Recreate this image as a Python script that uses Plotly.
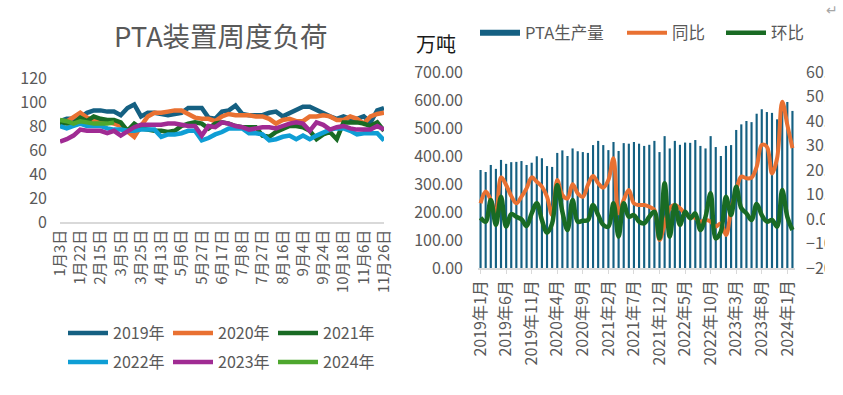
import plotly.graph_objects as go

# ---------------- left chart: weekly PTA plant load ----------------
weeks = ["1月3日", "1月10日", "1月16日", "1月22日", "1月29日", "2月8日", "2月15日", "2月22日", "2月28日",
         "3月5日", "3月12日", "3月19日", "3月25日", "4月1日", "4月8日", "4月13日", "4月19日", "4月26日",
         "5月6日", "5月13日", "5月20日", "5月27日", "6月3日", "6月10日", "6月17日", "6月24日", "7月1日",
         "7月8日", "7月15日", "7月21日", "7月27日", "8月3日", "8月9日", "8月16日", "8月23日", "8月29日",
         "9月4日", "9月11日", "9月17日", "9月24日", "10月8日", "10月12日", "10月18日", "10月25日", "10月31日",
         "11月6日", "11月13日", "11月19日", "11月26日"]
week_ticks = weeks[::3]

load_2019 = [84, 86, 86, 87, 91, 93, 93, 92, 92, 89, 95, 98, 88, 91, 91, 90, 89, 90, 91, 95, 95, 95, 87, 86, 92,
             93, 97, 90, 89, 89, 89, 91, 92, 88, 91, 94, 96, 96, 93, 90, 88, 86, 88, 86, 86, 88, 83, 93, 95]
load_2020 = [80, 84, 88, 91, 87, 85, 84, 83, 82, 80, 75, 71, 80, 88, 91, 91, 92, 93, 93, 90, 87, 86, 86, 84, 88,
             90, 89, 89, 89, 88, 88, 86, 82, 85, 86, 84, 84, 88, 88, 89, 88, 85, 85, 88, 86, 82, 88, 90, 91]
load_2021 = [83, 82, 82, 87, 84, 88, 86, 85, 85, 83, 76, 82, 78, 77, 76, 76, 75, 76, 80, 82, 83, 82, 78, 82, 83,
             82, 80, 79, 79, 79, 72, 71, 75, 78, 80, 80, 79, 76, 69, 73, 75, 69, 83, 83, 83, 82, 80, 83, 76]
load_2022 = [80, 78, 80, 82, 80, 80, 80, 78, 77, 77, 76, 76, 77, 77, 77, 71, 73, 73, 74, 76, 76, 68, 70, 73, 75,
             78, 78, 78, 74, 74, 73, 68, 69, 71, 72, 69, 72, 69, 72, 75, 77, 78, 78, 76, 73, 74, 74, 74, 68]
load_2023 = [67, 69, 72, 77, 76, 76, 76, 74, 76, 72, 76, 79, 81, 81, 81, 81, 82, 82, 81, 80, 80, 72, 80, 79, 83,
             82, 80, 79, 77, 78, 79, 79, 78, 80, 82, 83, 82, 76, 83, 81, 77, 79, 80, 78, 77, 77, 77, 80, 77]
load_2024 = [85, 84, 82, 84, 83, 82, 82, 82, 83]

years = ["2019年", "2020年", "2021年", "2022年", "2023年", "2024年"]
year_colors = ["#156082", "#E97132", "#196B24", "#0F9ED5", "#A02B93", "#4EA72E"]
loads = [load_2019, load_2020, load_2021, load_2022, load_2023, load_2024]

# ---------------- right chart: monthly PTA output ----------------
months = [f"{y}年{m}月" for y in range(2019, 2025) for m in range(1, 13)][:62]
month_ticks = months[::5]

output = [350, 343, 368, 354, 386, 372, 378, 379, 382, 368, 376, 399, 392, 364, 361, 411, 420, 400, 427, 417,
          414, 411, 439, 454, 439, 421, 450, 418, 446, 444, 450, 444, 436, 440, 454, 414, 471, 427, 454, 440,
          448, 447, 457, 436, 427, 471, 432, 400, 436, 439, 493, 513, 525, 521, 551, 567, 557, 554, 531, 596,
          593, 561]
yoy = [6.4, 11.2, 7.8, 2.3, 17.0, 13.9, 9.4, 6.4, 9.1, 12.5, 17.0, 15.2, 13.2, 9.1, 1.6, 15.9, 9.8, 8.4, 14.2, 10.5,
       9.1, 13.9, 17.6, 14.6, 12.8, 15.9, 24.8, 2.3, 7.8, 11.8, 6.4, 5.7, 5.7, 5.0, 3.7, -8.6, -2.0, 4.4, 5.7, 4.4,
       2.3, 1.0, 0.4, -1.1, -0.4, -1.0, -3.1, -1.8, -6.5, 3.7, 11.8, 17.3, 16.6, 16.9, 21.3, 30.2, 29.5, 18.6, 24.8,
       47.9, 38.4, 28.9]
mom = [0.5, -1.1, 7.8, -2.4, 9.1, -3.1, 2.0, 0.9, -0.1, -2.9, 2.3, 6.4, -0.4, -5.6, -1.8, 13.9, 3.0, -4.5, 7.8, -1.1,
       -0.7, -0.4, 5.7, 1.6, -2.4, -3.1, 6.4, -7.2, 6.4, 0.9, 1.6, -1.1, -1.8, 0.9, 3.0, -7.9, 14.6, -7.2, 5.7, -2.4,
       3.0, 0.3, 2.3, -4.5, 0.9, 10.5, -7.9, -5.2, 9.1, 1.6, 13.2, 4.4, 2.3, -0.4, 6.1, 1.6, -1.1, -0.4, -3.1, 11.8,
       0.9, -4.5]

W, H = 843, 395
GRAY = "#595959"
FONT = "Noto Sans CJK SC"


def px(x):
    return x / W


def py(y):
    return 1 - y / H


fig = go.Figure()

for i, (name, col, vals) in enumerate(zip(years, year_colors, loads)):
    fig.add_trace(go.Scatter(
        x=weeks[:len(vals)], y=vals, mode="lines", name=name,
        line=dict(color=col, width=4.5), xaxis="x", yaxis="y",
        legend="legend" if i < 3 else "legend2"))

fig.add_trace(go.Bar(x=months, y=output, name="PTA生产量", marker_color="#156082",
                     marker_line_width=0, width=0.42, xaxis="x2", yaxis="y2", showlegend=False))
fig.add_trace(go.Scatter(x=[None], y=[None], mode="lines", name="PTA生产量",
                         line=dict(color="#156082", width=6), xaxis="x2", yaxis="y2", legend="legend3"))
fig.add_trace(go.Scatter(x=months, y=yoy, mode="lines", name="同比", line_shape="spline",
                         line=dict(color="#E97132", width=4), xaxis="x2", yaxis="y3", legend="legend4"))
fig.add_trace(go.Scatter(x=months, y=mom, mode="lines", name="环比", line_shape="spline",
                         line=dict(color="#196B24", width=4.5), xaxis="x2", yaxis="y3", legend="legend4"))

tickfont = dict(family=FONT, size=16, color=GRAY)
legfont = dict(family=FONT, size=16, color=GRAY)
legbase = dict(orientation="h", xanchor="left", yanchor="middle", font=legfont,
               bgcolor="rgba(0,0,0,0)", itemwidth=40, tracegroupgap=0)

fig.update_layout(
    width=W, height=H, autosize=False,
    margin=dict(l=0, r=0, t=0, b=0),
    template="none",
    paper_bgcolor="white", plot_bgcolor="white",
    font=dict(family=FONT, color=GRAY),
    bargap=0.6,
    xaxis=dict(domain=[px(60), px(384)], type="category", categoryorder="array", categoryarray=weeks,
               range=[0, len(weeks) - 1], tickmode="array", tickvals=week_ticks, tickangle=-90,
               tickfont=dict(family=FONT, size=15, color=GRAY), showgrid=False, zeroline=False,
               showline=True, linecolor="#D9D9D9", linewidth=1.5, ticks="", anchor="y"),
    yaxis=dict(domain=[py(222), py(78)], range=[0, 120], dtick=20, tickfont=tickfont,
               showgrid=False, zeroline=False, showline=False, ticks="", ticklabelstandoff=12, anchor="x"),
    xaxis2=dict(domain=[px(478), px(795)], type="category", categoryorder="array", categoryarray=months,
                range=[-0.5, len(months) - 0.5], tickmode="array", tickvals=month_ticks, tickangle=-90,
                tickfont=dict(family=FONT, size=16, color=GRAY), showgrid=False, zeroline=False,
                showline=True, linecolor="#D9D9D9", linewidth=1.5, ticks="outside", ticklen=4,
                tickcolor="#D9D9D9", anchor="y2"),
    yaxis2=dict(domain=[py(268), py(72)], range=[0, 700], dtick=100, tickformat=".2f", tickfont=tickfont,
                showgrid=False, zeroline=False, showline=False, ticks="", ticklabelstandoff=14, anchor="x2"),
    yaxis3=dict(overlaying="y2", side="right", anchor="x2", range=[-20, 60], dtick=10, tickformat=".2f",
                ticksuffix="%", tickfont=tickfont, showgrid=False, zeroline=False, showline=False,
                ticks="", ticklabelstandoff=10),
    legend=dict(legbase, x=px(63), y=py(333), entrywidth=50),
    legend2=dict(legbase, x=px(63), y=py(362), entrywidth=50),
    legend3=dict(legbase, x=px(475), y=py(33), font=dict(family=FONT, size=16.5, color=GRAY)),
    legend4=dict(legbase, x=px(622), y=py(33), entrywidth=44, font=dict(family=FONT, size=16.5, color=GRAY)),
    shapes=[dict(type="rect", xref="paper", yref="paper", x0=px(825), x1=1.0, y0=0, y1=1,
                 fillcolor="white", line=dict(width=0), layer="above")],
    annotations=[
        dict(text="PTA装置周度负荷", xref="paper", yref="paper", x=px(221), y=py(35), showarrow=False,
             xanchor="center", yanchor="middle", font=dict(family=FONT, size=27.5, color=GRAY)),
        dict(text="万吨", xref="paper", yref="paper", x=px(436), y=py(43), showarrow=False,
             xanchor="center", yanchor="middle", font=dict(family=FONT, size=20, color="#1a1a1a")),
        dict(text="↵", xref="paper", yref="paper", x=px(832), y=py(9), showarrow=False,
             xanchor="center", yanchor="middle", font=dict(family=FONT, size=14, color="#A6A6A6")),
    ],
)

fig.write_html("out.html", config={"displayModeBar": False},
               post_script="document.body.style.margin='0';")
